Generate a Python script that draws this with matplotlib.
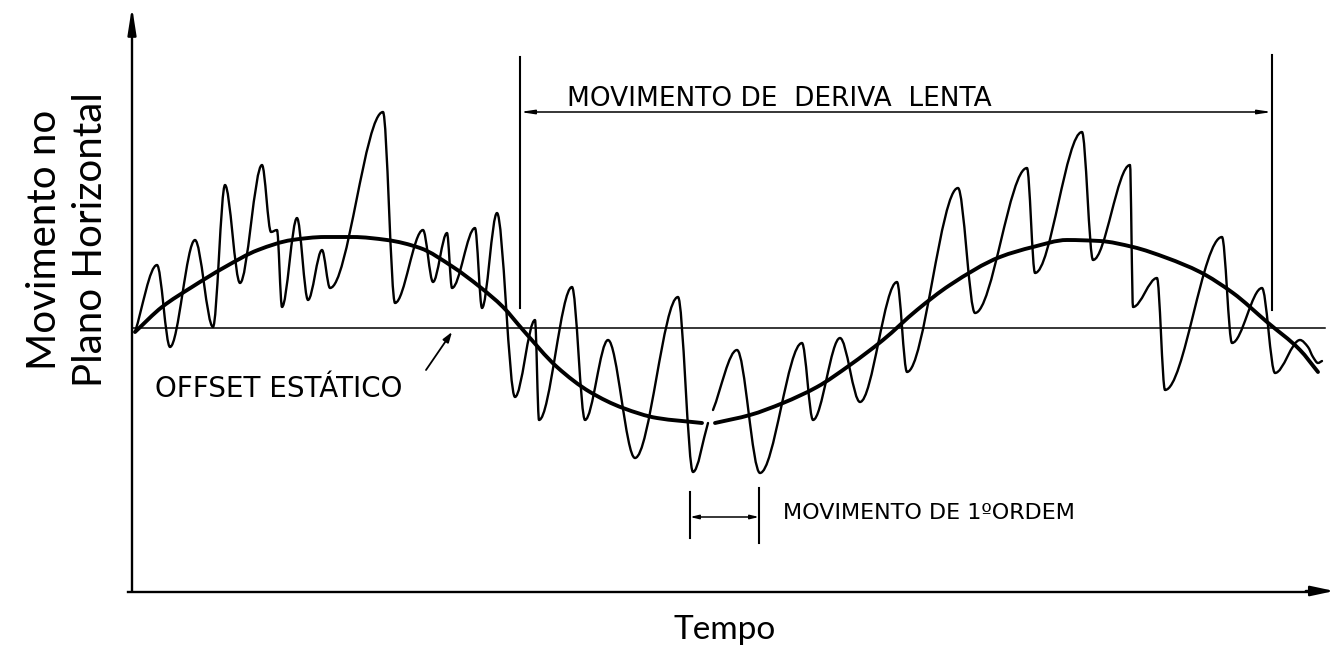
import numpy as np
import matplotlib
matplotlib.use("Agg")
import matplotlib.pyplot as plt
from matplotlib.path import Path
from matplotlib.patches import PathPatch

# ---- data (time in drawing units, displacement relative to the static offset) ----
# first-order (wave-frequency) motion, drawn in two pieces
wave_t1 = [2, 24, 37, 62, 80, 92, 107, 129, 138, 144, 149, 164, 175, 189, 197, 250, 262,
           290, 300, 314, 319, 342, 349, 364, 382, 402, 406, 439, 452, 475, 502, 545, 560, 575]
wave_y1 = [-4, 63, -19, 88, 1, 143, 45, 163, 96, 98, 21, 110, 28, 78, 40, 216, 25,
           98, 46, 95, 40, 100, 20, 115, -69, 8, -92, 41, -92, -12, -130, 31, -144, -95]
wave_t2 = [580, 604, 627, 669, 680, 707, 727, 764, 774, 825, 842, 894, 902, 949, 960, 997,
           1000, 1024, 1032, 1089, 1099, 1129, 1142, 1167, 1175, 1180, 1185, 1189]
wave_y2 = [-82, -22, -145, -15, -92, -10, -74, 46, -44, 140, 15, 160, 55, 196, 68, 163,
           21, 50, -62, 91, -15, 40, -45, -12, -19, -29, -35, -33]

# slow-drift motion, drawn in two pieces
drift_t1 = [2, 29, 59, 92, 125, 159, 192, 220, 254, 287, 320, 347, 370, 390, 424, 457, 490, 524, 569]
drift_y1 = [-4, 21, 41, 61, 78, 88, 91, 91, 88, 80, 61, 41, 21, -2, -39, -64, -80, -90, -95]
drift_t2 = [582, 617, 650, 684, 717, 750, 784, 817, 867, 900, 934, 967, 1000, 1034, 1067,
            1100, 1134, 1167, 1185]
drift_y2 = [-95, -87, -75, -59, -37, -12, 18, 43, 71, 81, 88, 87, 81, 70, 56,
            35, 6, -22, -44]

# annotation extents
drift_span = [387, 1139]
first_order_span = [557, 626]
offset_end = 1192
time_axis_level = -264

label_drift = "MOVIMENTO DE  DERIVA  LENTA"
label_offset = "OFFSET ESTÁTICO"
label_first = "MOVIMENTO DE 1ºORDEM"
label_y = "Movimento no\nPlano Horizontal"
label_x = "Tempo"


def smooth_path(t, y):
    """Monotone cubic (Fritsch-Carlson) Bezier path through the given points."""
    t = np.asarray(t, float)
    y = np.asarray(y, float)
    h = np.diff(t)
    d = np.diff(y) / h
    m = np.zeros_like(y)
    m[0], m[-1] = d[0], d[-1]
    for k in range(1, len(y) - 1):
        if d[k - 1] * d[k] > 0:
            h0, h1 = h[k - 1], h[k]
            m[k] = 3 * (h0 + h1) / ((2 * h1 + h0) / d[k - 1] + (h1 + 2 * h0) / d[k])
    verts = [(t[0], y[0])]
    codes = [Path.MOVETO]
    for k in range(len(h)):
        verts += [(t[k] + h[k] / 3, y[k] + m[k] * h[k] / 3),
                  (t[k + 1] - h[k] / 3, y[k + 1] - m[k + 1] * h[k] / 3),
                  (t[k + 1], y[k + 1])]
        codes += [Path.CURVE4] * 3
    return Path(verts, codes)


fig = plt.figure(figsize=(13.37, 6.56), dpi=100)
ax = fig.add_axes([0, 0, 1, 1])
ax.set_xlim(-133, 1204)
ax.set_ylim(-328, 328)
ax.axis("off")

ink = "black"

# axes of the sketch
ax.plot([-1, -1], [time_axis_level, 300], color=ink, lw=1.7, solid_capstyle="butt")
ax.annotate("", xy=(-1, 324), xytext=(-1, 290),
            arrowprops=dict(arrowstyle="-|>,head_length=1.6,head_width=0.25", color=ink, lw=1.7))
ax.plot([-5, 1180], [time_axis_level, time_axis_level], color=ink, lw=1.7)
ax.annotate("", xy=(1204, time_axis_level + 1), xytext=(1170, time_axis_level + 1),
            arrowprops=dict(arrowstyle="-|>,head_length=1.4,head_width=0.3", color=ink, lw=1.7))

# static offset reference line
ax.plot([0, offset_end], [0, 0], color=ink, lw=1.1)

# motions
for tt, yy in ((wave_t1, wave_y1), (wave_t2, wave_y2)):
    ax.add_patch(PathPatch(smooth_path(tt, yy), fill=False, edgecolor=ink, lw=1.7,
                           capstyle="round", joinstyle="round"))
for tt, yy in ((drift_t1, drift_y1), (drift_t2, drift_y2)):
    ax.add_patch(PathPatch(smooth_path(tt, yy), fill=False, edgecolor=ink, lw=2.8,
                           capstyle="round", joinstyle="round"))

# slow-drift period marker
ax.plot([drift_span[0], drift_span[0]], [20, 271], color=ink, lw=1.5)
ax.plot([drift_span[1], drift_span[1]], [18, 273], color=ink, lw=1.5)
ax.annotate("", xy=(drift_span[0], 216), xytext=(drift_span[1], 216),
            arrowprops=dict(arrowstyle="<|-|>,head_length=0.8,head_width=0.12",
                            color=ink, lw=1.1, shrinkA=0, shrinkB=0))
ax.text(434, 229, label_drift, fontsize=19, family="DejaVu Sans", ha="left", va="center",
        color=ink)

# static offset label
ax.text(22, -61, label_offset, fontsize=20, family="DejaVu Sans", ha="left", va="center",
        color=ink)
ax.annotate("", xy=(319, -4), xytext=(293, -42),
            arrowprops=dict(arrowstyle="-|>,head_length=0.6,head_width=0.2", color=ink, lw=1.3,
                            shrinkA=0, shrinkB=0))

# first-order period marker
ax.plot([first_order_span[0]] * 2, [-164, -210], color=ink, lw=1.5)
ax.plot([first_order_span[1]] * 2, [-160, -215], color=ink, lw=1.5)
ax.annotate("", xy=(first_order_span[0], -189), xytext=(first_order_span[1], -189),
            arrowprops=dict(arrowstyle="<|-|>,head_length=0.5,head_width=0.12",
                            color=ink, lw=1.1, shrinkA=0, shrinkB=0))
ax.text(650, -185, label_first, fontsize=16, family="DejaVu Sans",
        ha="left", va="center", color=ink)

# axis titles
ax.text(-65, 88, label_y, fontsize=29, family="Lato", rotation=90, ha="center", va="center",
        multialignment="center", linespacing=1.3, color=ink)
ax.text(592, -302, label_x, fontsize=24, family="Lato", ha="center", va="center", color=ink)

fig.savefig("out.png", dpi=100, facecolor="white")
